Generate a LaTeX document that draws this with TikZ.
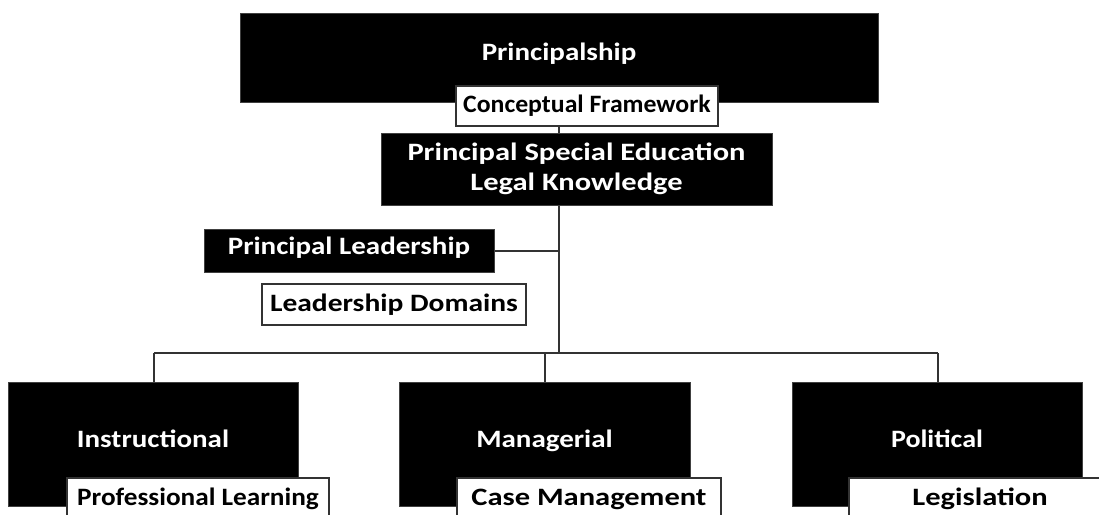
\documentclass[tikz,border=0pt]{standalone}
\usepackage{graphicx}
\usepackage{fontspec}
\setmainfont{Carlito}
\newcommand{\boxfont}{\bfseries\fontsize{25}{30}\selectfont}
% horizontally widened label, optionally shifted up
\newcommand{\wide}[3]{\raisebox{#2}{\scalebox{#1}[1]{#3}}}
\begin{document}
\begin{tikzpicture}[x=1pt,y=-1pt,
  darkbox/.style={fill=black, draw=black!75, line width=1pt, text=white,
    font=\boxfont, inner sep=0pt, align=center},
  lightbox/.style={fill=white, draw=black!80, line width=1.4pt, text=black,
    font=\boxfont, inner sep=0pt, align=center},
  link/.style={draw=black!80, line width=2pt}]
\useasboundingbox (0,0) rectangle (1099,514);
\clip (0,0) rectangle (1099,514);

% filled boxes
\node[darkbox, minimum width=638pt, minimum height=89pt] (top) at (559,57.5)
  {\wide{1.16}{12pt}{Principalship}};
\node[darkbox, minimum width=391pt, minimum height=72pt] (pse) at (576.5,169)
  {\wide{1.22}{-3pt}{\begin{tabular}{@{}c@{}}Principal Special Education\\Legal Knowledge\end{tabular}}};
\node[darkbox, minimum width=290pt, minimum height=43pt] (pl) at (349,250.5)
  {\wide{1.16}{10pt}{Principal Leadership}};
\node[darkbox, minimum width=290pt, minimum height=124pt] (instr) at (153,444)
  {\wide{1.16}{10pt}{Instructional}};
\node[darkbox, minimum width=291pt, minimum height=124pt] (manag) at (544.5,444)
  {\wide{1.16}{10pt}{Managerial}};
\node[darkbox, minimum width=290pt, minimum height=124pt] (polit) at (937,444)
  {\wide{1.12}{10pt}{Political}};

% outlined label boxes
\node[lightbox, minimum width=262pt, minimum height=40pt] (cf) at (587,106)
  {\wide{1.03}{0pt}{Conceptual Framework}};
\node[lightbox, minimum width=264pt, minimum height=41pt] (ld) at (394,304.5)
  {\wide{1.18}{0pt}{Leadership Domains}};
\node[lightbox, minimum width=262pt, minimum height=42pt] (profl) at (198,499)
  {\wide{1.09}{1pt}{Professional Learning}};
\node[lightbox, minimum width=264pt, minimum height=42pt] (casem) at (589,499)
  {\wide{1.22}{1pt}{Case Management}};
\node[lightbox, minimum width=262pt, minimum height=42pt] (legis) at (980,499)
  {\wide{1.22}{1pt}{Legislation}};

% connectors
\coordinate (trunk) at (559,353);
\coordinate (busL) at (154,353);
\coordinate (busM) at (545,353);
\coordinate (busR) at (938,353);
\draw[link] (cf.south -| trunk) -- (pse.north -| trunk);
\draw[link] (pse.south -| trunk) -- (trunk);
\draw[link] (pl.east) -- (pl.east -| trunk);
\draw[link] (busL) -- (busR);
\draw[link] (busL) -- (busL |- instr.north);
\draw[link] (busM) -- (busM |- manag.north);
\draw[link] (busR) -- (busR |- polit.north);
\end{tikzpicture}
\end{document}
